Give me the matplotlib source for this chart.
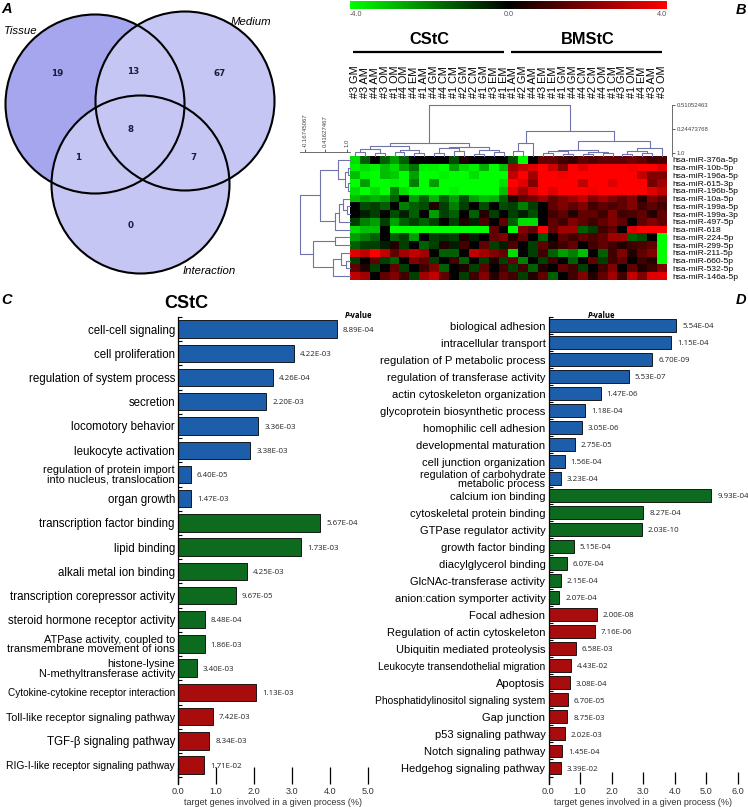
import numpy as np
import matplotlib
matplotlib.use('Agg')
import matplotlib.pyplot as plt
from matplotlib.patches import Circle
from matplotlib.colors import LinearSegmentedColormap
from matplotlib import font_manager

W, H = 748, 807
plt.rcParams['font.family'] = ['Liberation Sans', 'DejaVu Sans']

# ------------------------------------------------------------------ data
venn_set_names = ['Tissue', 'Medium', 'Interaction']
venn_regions = ['T', 'TM', 'M', 'TMI', 'TI', 'MI', 'I']
venn_counts = [19, 13, 67, 8, 1, 7, 0]

col_labels = ['#3 GM', '#3 AM', '#4 AM', '#3 OM', '#1 OM', '#4 OM', '#4 EM', '#1 AM',
              '#4 GM', '#4 CM', '#1 CM', '#2 GM', '#2 CM', '#1 GM', '#3 EM', '#1 EM',
              '#1 AM', '#2 GM', '#4 AM', '#3 EM', '#1 EM', '#1 GM', '#4 GM', '#4 CM',
              '#2 CM', '#4 OM', '#1 CM', '#3 GM', '#1 OM', '#4 EM', '#3 AM', '#3 OM']
col_groups = ['CStC', 'BMStC']
col_group_size = [16, 16]
row_labels = ['hsa-miR-376a-5p', 'hsa-miR-10b-5p', 'hsa-miR-196a-5p', 'hsa-miR-615-3p',
              'hsa-miR-196b-5p', 'hsa-miR-10a-5p', 'hsa-miR-199a-5p', 'hsa-miR-199a-3p',
              'hsa-miR-497-5p', 'hsa-miR-618', 'hsa-miR-224-5p', 'hsa-miR-299-5p',
              'hsa-miR-211-5p', 'hsa-miR-660-5p', 'hsa-miR-532-5p', 'hsa-miR-146a-5p']
expr = [
    [-3.5, -1.5, 0, -1.5, -2.5, -1.5, 0, 0, 0, 0, -1.2, 0.5, 0, 0, 0, 0,
     -1.2, -4, 0, 1.5, 1.5, 1.0, 0.8, 1.5, 1.2, 1.5, 1.5, 1.5, 1.8, 1.5, 1.0, 1.2],
    [-3.8, -3.5, -3.8, -3, -3.5, -2.5, -1.8, -3.8, -3.8, -4, -2.5, -3.5, -3.8, -2.8, -4, -3,
     2.5, 3, 3.5, 4, 3.2, 2, 4, 3.5, 4, 4, 4, 4, 3.8, 4, 4, 3.5],
    [-3, -3.8, -4, -3, -3.2, -4, -2.5, -4, -4, -3.8, -4, -4, -3.5, -4, -4, -4,
     3, 4, 2.5, 4, 4, 3.8, 4, 4, 4, 4, 4, 4, 4, 3, 2, 2],
    [-4, -2.5, -4, -4, -3.8, -4, -2, -4, -2.5, -4, -4, -4, -4, -4, -4, -3.5,
     4, 3.5, 2, 4, 4, 4, 4, 3, 4, 4, 3.5, 4, 4, 4, 1.8, 2.5],
    [-3.5, -4, -3.5, -4, -2, -3.5, -4, -4, -4, -4, -3.8, -4, -4, -4, -4, -3,
     3.5, 2.5, 3.5, 4, 3.5, 4, 4, 4, 3.8, 4, 4, 4, 4, 4, 3.5, 3],
    [-3, -2.5, -2.8, -2.5, -1.5, 0, -2.5, -1.5, -2.8, -1.5, -2.5, -1.2, -2.5, -3, -2.8, -1.5,
     0.5, 1.5, 1.8, 2.5, 1.5, 2, 2.5, 3, 2, 2.5, 2, 1.5, 2, 0.5, 2, 1.5],
    [0, -1.2, -1, -1.5, 0, -2, -1.5, -1.2, 0.5, -1, -2, -1, 0, -1.2, 0, -1.2,
     -1, -2, -1, 0, 1.5, 2, 1.5, 2, 1, 1.5, 1.2, 1.5, 2, 1, 1.5, 1],
    [0, -0.5, -1, 0, -1.2, -0.5, -1.5, 0, -2.5, -1, -1.5, 0, -1.5, 0.5, -1, 0,
     -1, -0.5, -1.2, 0, 1, 1.5, 0.5, 1.5, 1.5, 1, 2, 1, 1.2, 1.5, 0.5, 1.5],
    [-1, -2, -2.5, -1, -2.5, -1.5, -1, -1.5, -1, 0, -1, 0.5, -0.5, 1.2, 0, 1.5,
     -1.5, -3.5, -3.5, 0, 1.5, 1, 2, 1.5, 1, 1.5, 2, 1.5, 0, 1.5, 2, 1.5],
    [-3.5, -3, -3, 0, -4, -4, -4, -4, -4, -4, -4, -4, -4, -4, 1.5, 0,
     -4, 2, 1.5, 4, 1.5, 2.5, 2.5, -1.5, -1, 1, 1.5, 0, 3.5, 4, 4, 4],
    [-2.5, -2, -1.5, 0, -1.5, -1, -2.5, 0, -1, -0.8, -1, 0.5, -0.5, 0, 1.5, 2,
     0.5, 1.5, 0, -1.5, 0, 1.5, 1, 1.5, 1.2, 1.5, 2.5, 2.5, -1.5, -1.2, 0, -4],
    [-1.5, -1, -1, -0.5, 0.5, -1, 0, -1.5, -1, 0.5, -0.5, 1, 0, 1.5, -1, -0.5,
     1.2, 0, -1, 1.5, 0.5, 1, 1.5, 0, 1, 1.5, 1, 0.5, 1, 1.2, 1.5, -4],
    [3.5, 3, 4, 3, 1.5, 2.5, 3, 2.5, 0, -1.5, -1.5, 0, 3, 2.5, 2, 1.5,
     -3.5, 0, -1, 1, -1.5, -2.5, -2, -3, 0, -1.5, 1, 2, 0.5, 1.5, 2, -4],
    [-1, 0, 1.5, -1, -1.5, 0, 2, 1.5, -1, 0, 1, -1.5, 0, -1, 0.5, -1,
     1.5, -2, 0, -1, 1, 0, -1.5, 0, 1.5, -1, 1, 1.5, 0, 1, 0.5, -4],
    [1.5, 0.5, -1, 0, 1.5, -1, 0, 1, 2, -1.5, 0, 0.5, -1, 1.5, 0, 1,
     -1, 1, -1.5, 0.5, 0, 1.5, 1, -1, 0, 1, 2, 0, 1.5, 0.5, 1, 2],
    [3, 2.5, 0, 1.5, 2, 1, -1, 2.5, 3, 1.5, 0, -1, 1, 2, 0.5, 1.5,
     1, -1, 0.5, 1.5, -1.5, 0, 1, 2, 0.5, 1.5, 2.5, 1, 3, 2, 3.5, 3.5],
]
# linkage: (node_a, node_b, height) ; leaves are 0..n-1, new nodes n, n+1, ...
col_linkage = [(0, 1, 0.08), (2, 3, 0.06), (32, 33, 0.14), (4, 5, 0.07), (6, 7, 0.05),
               (35, 36, 0.12), (34, 37, 0.20), (8, 9, 0.06), (10, 11, 0.09), (39, 40, 0.15),
               (12, 13, 0.04), (14, 15, 0.07), (42, 43, 0.11), (41, 44, 0.18), (38, 45, 0.26),
               (16, 17, 0.10), (47, 18, 0.25), (19, 20, 0.05), (21, 22, 0.04), (49, 50, 0.09),
               (23, 24, 0.03), (25, 26, 0.05), (52, 53, 0.08), (51, 54, 0.12), (27, 28, 0.04),
               (29, 30, 0.06), (56, 57, 0.10), (58, 31, 0.16), (55, 59, 0.30), (48, 60, 0.50),
               (46, 61, 1.00)]
row_linkage = [(1, 2, 0.05), (3, 4, 0.04), (16, 17, 0.10), (0, 18, 0.25), (6, 7, 0.06),
               (5, 20, 0.15), (21, 8, 0.22), (22, 9, 0.30), (19, 23, 0.60), (10, 11, 0.30),
               (13, 14, 0.08), (12, 26, 0.18), (27, 15, 0.35), (25, 28, 0.75), (24, 29, 1.00)]
col_scale_ticks = ['1.0', '0.24473768', '0.51052463']
row_scale_ticks = ['-0.16745067', '0.41627467', '1.0']

cstc_terms = ['cell-cell signaling', 'cell proliferation', 'regulation of system process',
              'secretion', 'locomotory behavior', 'leukocyte activation',
              'regulation of protein import\ninto nucleus, translocation', 'organ growth',
              'transcription factor binding', 'lipid binding', 'alkali metal ion binding',
              'transcription corepressor activity', 'steroid hormone receptor activity',
              'ATPase activity, coupled to\ntransmembrane movement of ions',
              'histone-lysine\nN-methyltransferase activity',
              'Cytokine-cytokine receptor interaction', 'Toll-like receptor signaling pathway',
              'TGF-β signaling pathway', 'RIG-I-like receptor signaling pathway']
cstc_values = [4.18, 3.04, 2.50, 2.32, 2.11, 1.90, 0.34, 0.34,
               3.74, 3.24, 1.81, 1.52, 0.70, 0.70, 0.49,
               2.06, 0.92, 0.82, 0.69]
cstc_pvals = ['8.89E-04', '4.22E-03', '4.26E-04', '2.20E-03', '3.36E-03', '3.38E-03',
              '6.40E-05', '1.47E-03', '5.67E-04', '1.73E-03', '4.25E-03', '9.67E-05',
              '8.48E-04', '1.86E-03', '3.40E-03', '1.13E-03', '7.42E-03', '8.34E-03',
              '1.71E-02']
cstc_cats = ['BP'] * 8 + ['MF'] * 7 + ['KEGG'] * 4

bmstc_terms = ['biological adhesion', 'intracellular transport',
               'regulation of P metabolic process', 'regulation of transferase activity',
               'actin cytoskeleton organization', 'glycoprotein biosynthetic process',
               'homophilic cell adhesion', 'developmental maturation',
               'cell junction organization', 'regulation of carbohydrate\nmetabolic process',
               'calcium ion binding', 'cytoskeletal protein binding', 'GTPase regulator activity',
               'growth factor binding', 'diacylglycerol binding', 'GlcNAc-transferase activity',
               'anion:cation symporter activity',
               'Focal adhesion', 'Regulation of actin cytoskeleton', 'Ubiquitin mediated proteolysis',
               'Leukocyte transendothelial migration', 'Apoptosis',
               'Phosphatidylinositol signaling system', 'Gap junction', 'p53 signaling pathway',
               'Notch signaling pathway', 'Hedgehog signaling pathway']
bmstc_values = [4.04, 3.88, 3.28, 2.54, 1.65, 1.16, 1.06, 0.83, 0.51, 0.39,
                5.16, 3.00, 2.95, 0.80, 0.58, 0.39, 0.34,
                1.52, 1.47, 0.87, 0.70, 0.67, 0.61, 0.60, 0.51, 0.44, 0.39]
bmstc_pvals = ['5.54E-04', '1.15E-04', '6.70E-09', '5.53E-07', '1.47E-06', '1.18E-04',
               '3.05E-06', '2.75E-05', '1.56E-04', '3.23E-04', '9.93E-04', '8.27E-04',
               '2.03E-10', '5.15E-04', '6.07E-04', '2.15E-04', '2.07E-04', '2.00E-08',
               '7.16E-06', '6.58E-03', '4.43E-02', '3.08E-04', '6.70E-05', '8.75E-03',
               '2.02E-03', '1.45E-04', '3.39E-02']
bmstc_cats = ['BP'] * 10 + ['MF'] * 7 + ['KEGG'] * 10

# ------------------------------------------------------------------ style
cat_colors = {'BP': '#1d5eab', 'MF': '#0c6b1e', 'KEGG': '#a80c0c'}
# condensed-looking labels in the reference: size factor when drawn in the regular face
narrow_scale = {'Cytokine-cytokine receptor interaction': 0.87,
                'Toll-like receptor signaling pathway': 0.93,
                'RIG-I-like receptor signaling pathway': 0.89,
                'Leukocyte transendothelial migration': 0.92,
                'Phosphatidylinositol signaling system': 0.92}
DENDRO_COLOR = '#6f74aa'


def has_font(name):
    try:
        font_manager.findfont(name, fallback_to_default=False)
        return True
    except Exception:
        return False


PFONT = 'Open Sans' if has_font('Open Sans') else 'DejaVu Sans'

fig = plt.figure(figsize=(W / 100, H / 100), dpi=100)


def px_axes(x0, y0, x1, y1):
    return fig.add_axes([x0 / W, 1 - y1 / H, (x1 - x0) / W, (y1 - y0) / H])


ov = fig.add_axes([0, 0, 1, 1])
ov.set_xlim(0, W)
ov.set_ylim(H, 0)
ov.axis('off')

# panel letters
for letter, (lx, ly) in zip('ABCD', [(7, 9), (741, 10), (7, 300), (741, 300)]):
    ov.text(lx, ly, letter, fontsize=10.5, fontweight='bold', style='italic',
            ha='center', va='center')

# ------------------------------------------------------------------ A: Venn
va = px_axes(0, 0, 300, 290)
va.set_xlim(0, 300)
va.set_ylim(290, 0)
va.axis('off')
circ_geom = [((95, 104), 89.5), ((185, 101), 89.5), ((140.5, 184.5), 89)]
circ_fill = ['#a6a6ef', '#c6c6f5', '#c6c6f5']
for (c, r), fc in zip(circ_geom, circ_fill):
    va.add_patch(Circle(c, r, facecolor=fc, edgecolor='none', zorder=1))
for (c, r) in circ_geom:
    va.add_patch(Circle(c, r, facecolor='none', edgecolor='black', linewidth=1.5, zorder=3))
region_pos = {'T': (57, 73), 'TM': (133, 71), 'M': (220, 73), 'TMI': (131, 130),
              'TI': (78, 157), 'MI': (193, 157), 'I': (131, 225)}
for reg, cnt in zip(venn_regions, venn_counts):
    x, y = region_pos[reg]
    va.text(x, y, str(cnt), fontsize=6.3, fontweight='bold', color='#1c1c3c',
            family='DejaVu Sans', ha='center', va='center', zorder=4)
set_label_pos = [(4, 31, 'left'), (251, 22, 'center'), (209, 271, 'center')]
for name, (x, y, ha) in zip(venn_set_names, set_label_pos):
    va.text(x, y, name, fontsize=8.2, style='italic', ha=ha, va='center', zorder=4)

# ------------------------------------------------------------------ B: heatmap
cmap = LinearSegmentedColormap.from_list('gkr', ['#00ff00', '#000000', '#ff0000'])
n_rows, n_cols = len(row_labels), len(col_labels)
hm = px_axes(350, 156, 667, 280)
im = hm.imshow(np.array(expr), cmap=cmap, vmin=-4, vmax=4, aspect='auto',
               interpolation='nearest')
for s in hm.spines.values():
    s.set_visible(False)
hm.set_xticks([])
hm.yaxis.tick_right()
hm.set_yticks(range(n_rows))
hm.set_yticklabels(row_labels, fontsize=6.1)
hm.tick_params(axis='y', length=0, pad=3.6)

cax = px_axes(350, 0.5, 667, 8.5)
cb = fig.colorbar(im, cax=cax, orientation='horizontal')
cb.outline.set_visible(False)
cax.set_xticks([])
ov.text(350, 15, '-4.0', fontsize=5.2, color='#555', ha='left', va='center')
ov.text(508.5, 15, '0.0', fontsize=5.2, color='#555', ha='center', va='center')
ov.text(667, 15, '4.0', fontsize=5.2, color='#555', ha='right', va='center')

# group headers
hd = px_axes(350, 28, 667, 56)
hd.set_xlim(-0.5, n_cols - 0.5)
hd.set_ylim(56, 28)
hd.axis('off')
start = 0
for g, size in zip(col_groups, col_group_size):
    g0, g1 = start, start + size - 1
    hd.text((g0 + g1) / 2, 40, g, fontsize=11.8, fontweight='bold', ha='center', va='center')
    hd.plot([g0 - 0.2, g1], [52, 52], color='black', linewidth=1.6, solid_capstyle='butt')
    start += size

# column labels
cl = px_axes(350, 60, 667, 98)
cl.set_xlim(-0.5, n_cols - 0.5)
cl.set_ylim(0, 1)
cl.axis('off')
for i, lab in enumerate(col_labels):
    cl.text(i, 0, lab, rotation=90, ha='center', va='bottom', fontsize=7.8)


def draw_dendro(ax, linkage, n, orient):
    pos = {i: float(i) for i in range(n)}
    hgt = {i: 0.0 for i in range(n)}
    for k, (a, b, h) in enumerate(linkage):
        xa, xb = pos[a], pos[b]
        ha_, hb_ = hgt[a], hgt[b]
        if orient == 'top':
            ax.plot([xa, xa, xb, xb], [ha_, h, h, hb_], color=DENDRO_COLOR, lw=0.8,
                    clip_on=False)
        else:
            ax.plot([ha_, h, h, hb_], [xa, xa, xb, xb], color=DENDRO_COLOR, lw=0.8,
                    clip_on=False)
        pos[n + k] = (xa + xb) / 2
        hgt[n + k] = h


cd = px_axes(350, 105, 667, 156)
draw_dendro(cd, col_linkage, n_cols, 'top')
cd.set_xlim(-0.5, n_cols - 0.5)
cd.set_ylim(0, 1)
cd.patch.set_visible(False)
for s in ['top', 'left', 'bottom']:
    cd.spines[s].set_visible(False)
cd.spines['right'].set_position(('outward', 3.6))
cd.spines['right'].set_linewidth(0.6)
cd.spines['right'].set_color('#555')
cd.yaxis.tick_right()
cd.set_yticks([0.06, 0.53, 1.0])
cd.set_yticklabels(col_scale_ticks)
cd.set_xticks([])
cd.tick_params(axis='y', length=2.5, width=0.6, labelsize=4.3, pad=1, colors='#444')

rd = px_axes(300, 156, 350, 280)
draw_dendro(rd, row_linkage, n_rows, 'left')
rd.set_ylim(n_rows - 0.5, -0.5)
rd.set_xlim(1.0, 0.0)
rd.patch.set_visible(False)
for s in ['right', 'left', 'bottom']:
    rd.spines[s].set_visible(False)
rd.spines['top'].set_position(('outward', 2.9))
rd.spines['top'].set_linewidth(0.6)
rd.spines['top'].set_color('#555')
rd.xaxis.tick_top()
rd.set_xticks([0.9, 0.5, 0.06])
rd.set_xticklabels(row_scale_ticks, rotation=90)
rd.set_yticks([])
rd.tick_params(axis='x', length=2.5, width=0.6, labelsize=4.3, pad=1, colors='#444')

# ------------------------------------------------------------------ C / D bars


def bar_panel(ax, terms, vals, pvals, cats, xmax, ybottom, bar_h, fs, tick_len):
    n = len(terms)
    y = np.arange(n)
    ax.barh(y, vals, height=bar_h, color=[cat_colors[c] for c in cats],
            edgecolor='black', linewidth=0.6, zorder=2)
    ax.set_xlim(0, xmax)
    ax.set_ylim(ybottom, -0.5)
    ax.set_yticks(y)
    ax.set_yticklabels(terms, fontsize=fs, linespacing=0.92)
    for t in ax.get_yticklabels():
        txt = t.get_text()
        if txt in narrow_scale:
            t.set_size(fs * narrow_scale[txt])
        elif '\n' in txt:
            t.set_size(fs * 0.96)
    ax.set_yticks(np.arange(-0.5, n, 1.0), minor=True)
    ax.tick_params(axis='y', which='major', length=0, pad=2.2)
    ax.tick_params(axis='y', which='minor', direction='in', length=3.2, width=0.8)
    ax.set_xticks(np.arange(0, xmax + 0.01, 1.0))
    ax.set_xticklabels([f'{v:.1f}' for v in np.arange(0, xmax + 0.01, 1.0)])
    ax.tick_params(axis='x', direction='in', length=tick_len, width=0.9, pad=2.4,
                   labelsize=6.6, labelcolor='#333')
    for s in ['top', 'right', 'bottom']:
        ax.spines[s].set_visible(False)
    ax.spines['left'].set_linewidth(0.9)
    ax.patch.set_visible(False)
    ax.set_xlabel('target genes involved in a given process (%)', fontsize=6.5,
                  labelpad=1.5, color='#333')
    for yi, (v, p) in enumerate(zip(vals, pvals)):
        ax.annotate(p, (v, yi), xytext=(4.3, -0.8), textcoords='offset points',
                    va='center', ha='left', fontsize=5.7, family=PFONT, color='#222')


axC = px_axes(178, 317, 368, 784)
bar_panel(axC, cstc_terms, cstc_values, cstc_pvals, cstc_cats, 5, 18.78, 0.72, 8.3, 12.2)
axD = px_axes(548.5, 317, 738, 784)
bar_panel(axD, bmstc_terms, bmstc_values, bmstc_pvals, bmstc_cats, 6, 26.94, 0.76, 8.0, 8.5)

ov.text(186, 304, 'CStC', fontsize=13, fontweight='bold', ha='center', va='center')
for px0 in (345, 588):
    ov.text(px0, 315, 'P', fontsize=5.5, fontweight='bold', style='italic',
            ha='left', va='center', family=PFONT)
    ov.text(px0 + 4.2, 315, '-value', fontsize=5.5, fontweight='bold',
            ha='left', va='center', family=PFONT)

fig.savefig('out.png', dpi=100)
